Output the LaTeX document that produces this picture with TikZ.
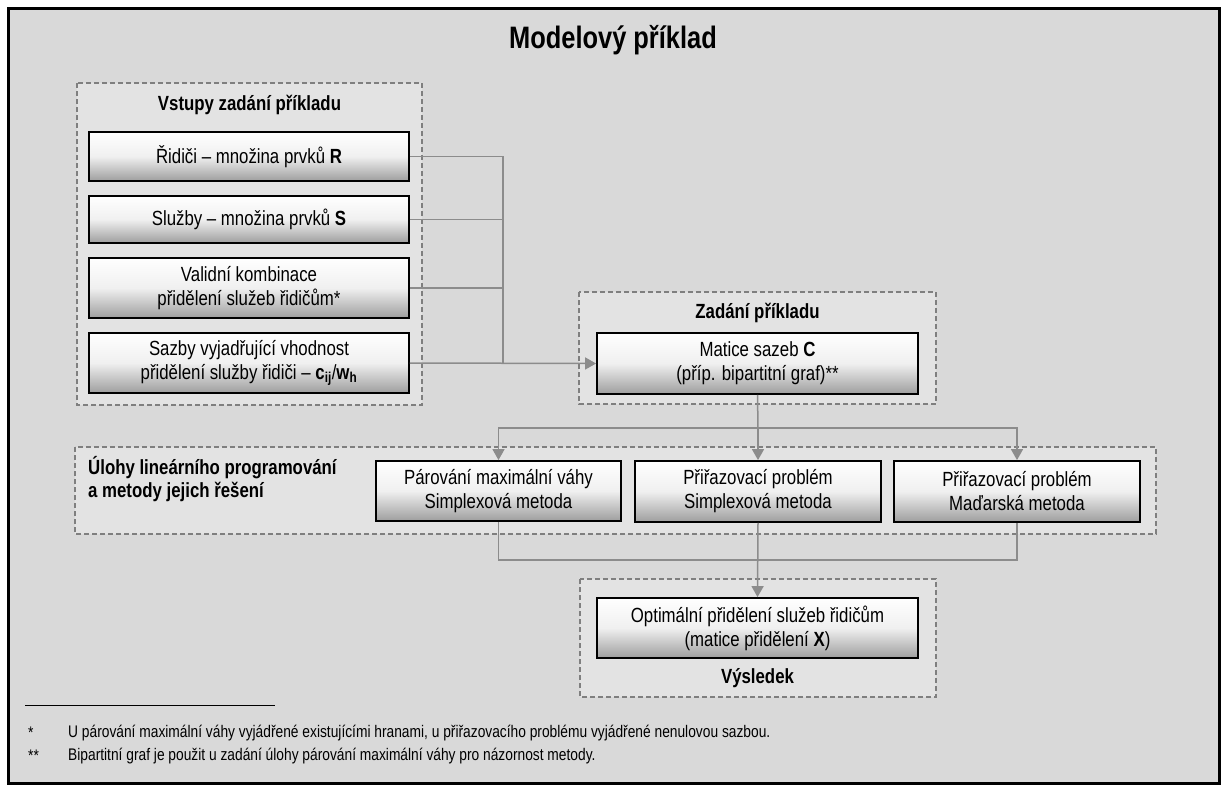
\documentclass[tikz,border=0pt]{standalone}
\usepackage{fontspec}
\setmainfont{Liberation Sans}[FakeStretch=0.82]
\usetikzlibrary{arrows.meta}
\definecolor{bg}{HTML}{D9D9D9}
\definecolor{grpfill}{HTML}{E3E3E3}
\definecolor{grpline}{HTML}{7F7F7F}
\definecolor{wire}{HTML}{8C8C8C}
\definecolor{boxshade}{HTML}{9E9E9E}
\begin{document}
\begin{tikzpicture}[x=1pt,y=-1pt,
  box/.style={draw=black, line width=1.8pt, top color=white, bottom color=boxshade,
    middle color=white!94!black, inner sep=0pt, align=center,
    font=\fontsize{20.5}{24}\selectfont},
  grp/.style={draw=grpline, fill=grpfill, line width=1.4pt, dash pattern=on 5pt off 3pt},
  grptitle/.style={font=\fontsize{20.5}{23}\selectfont\bfseries, inner sep=0pt},
  wireline/.style={draw=wire, line width=1.5pt},
  arr/.style={wireline, -{Triangle[length=11pt,width=12pt]}},
  note/.style={font=\fontsize{16.8}{19}\selectfont, anchor=west, inner sep=0pt}]
\useasboundingbox (0,0) rectangle (1226,787);
\fill[white] (0,0) rectangle (1226,787);
% frame
\draw[fill=bg, line width=3pt] (8,8) rectangle (1219,783);
\node[font=\fontsize{31}{34}\selectfont\bfseries] (title) at (613,40) {Modelový příklad};

% group panels
\draw[grp] (77,83) rectangle (422,405);
\draw[grp] (579,292) rectangle (936,404);
\draw[grp] (75,447) rectangle (1156,534);
\draw[grp] (580,579) rectangle (936,697);

\node[grptitle] (g1t) at (249.5,105) {Vstupy zadání příkladu};
\node[grptitle] (g2t) at (757.5,313) {Zadání příkladu};
\node[grptitle, align=left, anchor=west] (g3t) at (88,479) {Úlohy lineárního programování\\a metody jejich řešení};
\node[grptitle] (g4t) at (757.5,678) {Výsledek};

% input boxes
\node[box, minimum width=320pt, minimum height=49pt] (in1) at (249,156.5) {Řidiči – množina prvků \textbf{R}};
\node[box, minimum width=320pt, minimum height=47pt] (in2) at (249,219.5) {Služby – množina prvků \textbf{S}};
\node[box, minimum width=320pt, minimum height=60pt] (in3) at (249,288) {Validní kombinace\\přidělení služeb řidičům*};
\node[box, minimum width=320pt, minimum height=60pt] (in4) at (249,363) {Sazby vyjadřující vhodnost\\přidělení služby řidiči – \textbf{c}\textsubscript{\bfseries ij}/\textbf{w}\textsubscript{\bfseries h}};

% task matrix
\node[box, minimum width=321pt, minimum height=61pt] (mat) at (757.5,363.5) {Matice sazeb \textbf{C}\\(příp. bipartitní graf)**};

% methods
\node[box, minimum width=245pt, minimum height=60pt] (p1) at (498.5,491) {Párování maximální váhy\\Simplexová metoda};
\node[box, minimum width=246pt, minimum height=61pt] (p2) at (758,491.5) {Přiřazovací problém\\Simplexová metoda};
\node[box, minimum width=246pt, minimum height=61pt] (p3) at (1017,491.5) {Přiřazovací problém\\Maďarská metoda};

% result
\node[box, minimum width=321pt, minimum height=60pt] (res) at (757.5,628) {Optimální přidělení služeb řidičům\\(matice přidělení \textbf{X})};

% connectors
\coordinate (bus) at (503,363);
\coordinate (split) at (758,428);
\coordinate (merge) at (758,560);
\draw[wireline] (in1.east) -| (bus);
\draw[wireline] (in2.east) -| (bus);
\draw[wireline] (in3.east) -| (bus);
\draw[arr] (in4.east) -- (mat.west);
\draw[wireline] (mat.south) -- (split);
\draw[arr] (split) -- (p2.north);
\draw[arr] (split) -| (p1.north);
\draw[arr] (split) -| (p3.north);
\draw[wireline] (p1.south) |- (merge);
\draw[wireline] (p3.south) |- (merge);
\draw[arr] (p2.south) -- (res.north);

% footnotes
\draw[line width=1pt] (25,705) -- (275,705);
\node[note] (n1s) at (28,733) {*};
\node[note] (n1) at (68,733) {U párování maximální váhy vyjádřené existujícími hranami, u přiřazovacího problému vyjádřené nenulovou sazbou.};
\node[note] (n2s) at (28,756) {**};
\node[note] (n2) at (68,756) {Bipartitní graf je použit u zadání úlohy párování maximální váhy pro názornost metody.};
\end{tikzpicture}
\end{document}
